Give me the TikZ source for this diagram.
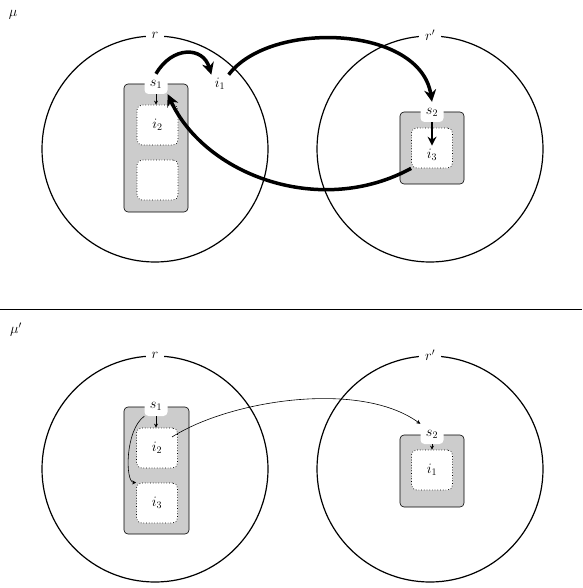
\documentclass[tikz,border=0pt]{standalone}
\usetikzlibrary{arrows.meta}
\begin{document}
\begin{tikzpicture}[x=1pt,y=-1pt,
  font=\fontsize{14}{16}\selectfont,
  region/.style={draw,circle,minimum size=226pt,line width=1.2pt,inner sep=0pt},
  rlabel/.style={fill=white,inner xsep=6pt,inner ysep=2pt},
  graybox/.style={draw,fill=gray!40,rounded corners=4pt,line width=0.6pt,inner sep=0pt},
  dotbox/.style={draw,fill=white,dotted,rounded corners=5pt,line width=0.7pt,minimum width=41pt,minimum height=40pt,inner sep=0pt},
  notch/.style={fill=white,rounded corners=4pt,minimum width=23pt,minimum height=20pt,inner sep=0pt},
  thickarr/.style={line width=3.5pt,-{Stealth[length=12pt,width=12pt]}},
  midarr/.style={line width=2.4pt,-{Stealth[length=9pt,width=9pt]}},
  thinarr/.style={line width=0.6pt,-{Stealth[length=4pt,width=4pt]}}]
\useasboundingbox (0,0) rectangle (582,588);
% labels
\node (mu) at (13,15) {$\mu$};
\node (mup) at (16,330) {$\mu'$};
\draw[line width=0.6pt] (0,309) coordinate (hl) -- (582,309) coordinate (hr);
% ---------- top ----------
\node[region] (R) at (155,149) {};
\node[region] (Rp) at (430,149) {};
\node[rlabel] at (R.north) {$r$};
\node[rlabel] at (Rp.north) {$r'$};
\node[graybox,minimum width=64pt,minimum height=128pt] (B1) at (156,148) {};
\node[dotbox] (b2) at (157.5,125) {$i_2$};
\node[dotbox] (be) at (157.5,180) {};
\node[notch] (s1) at (156,84) {$s_1$};
\node[graybox,minimum width=64pt,minimum height=72pt] (B2) at (432,148) {};
\node[dotbox] (b3) at (432,148) {};
\node (i3) at (432,155) {$i_3$};
\node[notch] (s2) at (432,112) {$s_2$};
\node (i1) at (220,84) {$i_1$};
\draw[thinarr] (s1.south) -- (s1.south |- b2.north);
\draw[midarr] (s2.south) -- (i3.north);
\draw[thickarr] (s1.north) .. controls (172,46) and (203,46) .. (i1.north west);
\draw[thickarr] (i1.north east) .. controls (270,20) and (420,25) .. (s2.north);
\draw[thickarr] (b3.south west) .. controls (320,218) and (205,175) .. (s1.south east);
% ---------- bottom ----------
\node[region] (Q) at (155,469) {};
\node[region] (Qp) at (430,469) {};
\node[rlabel] at (Q.north) {$r$};
\node[rlabel] at (Qp.north) {$r'$};
\node[graybox,minimum width=65pt,minimum height=127pt] (C1) at (156.5,470.5) {};
\node[dotbox] (c2) at (157,448) {$i_2$};
\node[dotbox] (c3) at (157,503) {$i_3$};
\node[notch] (t1) at (156,406) {$s_1$};
\node[graybox,minimum width=64pt,minimum height=72pt] (C2) at (432,471) {};
\node[dotbox] (c1) at (432,470) {$i_1$};
\node[notch] (t2) at (432,434) {$s_2$};
\coordinate (c2e) at (172,437);
\draw[thinarr] (t1.south) -- (t1.south |- c2.north);
\draw[thinarr] (t2.south) -- (t2.south |- c1.north);
\draw[thinarr] (t1.south west) .. controls (125,430) and (125,482) .. (c3.north west);
\draw[thinarr] (c2e) .. controls (230,400) and (360,380) .. (t2.north west);
\end{tikzpicture}
\end{document}
